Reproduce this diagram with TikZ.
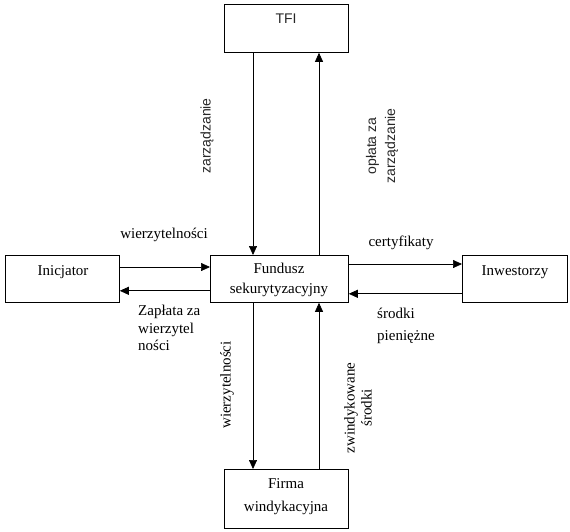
\documentclass[tikz,border=0pt]{standalone}
\usepackage{fontspec}
\setmainfont{Liberation Serif}
\newfontfamily\arialf{Liberation Sans}
\usetikzlibrary{arrows.meta}
\begin{document}
\begin{tikzpicture}[x=1pt,y=-1pt,
  box/.style={draw, line width=0.8pt, minimum width=#1, inner sep=0pt, anchor=north west},
  lbl/.style={font=\fontsize{15}{17}\selectfont, inner sep=0pt},
  slbl/.style={font=\arialf\fontsize{14}{19}\selectfont, inner sep=0pt, text=black!85},
  arr/.style={draw, line width=0.7pt, -{Triangle[length=9pt,width=8pt]}}
]
\useasboundingbox (0,0) rectangle (570,531);
% boxes
\node[box=124pt, minimum height=48pt] (tfi) at (224,4) {};
\node[box=114pt, minimum height=47pt] (ini) at (5,255) {};
\node[box=138pt, minimum height=47pt] (fund) at (210,255) {};
\node[box=105pt, minimum height=47pt] (inw) at (462,255) {};
\node[box=124pt, minimum height=59pt] (firma) at (224,469) {};
% box texts
\node[slbl] (tfit) at (286,19) {TFI};
\node[lbl] (init) at (63,272) {Inicjator};
\node[lbl] (inwt) at (515,272) {Inwestorzy};
\node[lbl, align=center, font=\fontsize{15}{20}\selectfont] (fundt) at (279,280) {Fundusz\\sekurytyzacyjny};
\node[lbl] (firmat1) at (286,484) {Firma};
\node[lbl] (firmat2) at (286,508) {windykacyjna};
% vertical connectors
\draw[arr] ([xshift=29pt]tfi.south west) -- ([xshift=43pt]fund.north west);
\draw[arr] ([xshift=109pt]fund.north west) -- ([xshift=95pt]tfi.south west);
\draw[arr] ([xshift=43pt]fund.south west) -- ([xshift=29pt]firma.north west);
\draw[arr] ([xshift=95pt]firma.north west) -- ([xshift=109pt]fund.south west);
% horizontal connectors
\draw[arr] ([yshift=-12pt]ini.north east) -- ([yshift=-12pt]fund.north west);
\draw[arr] ([yshift=12pt]fund.south west) -- ([yshift=12pt]ini.south east);
\draw[arr] ([yshift=-9pt]fund.north east) -- ([yshift=-9pt]inw.north west);
\draw[arr] ([yshift=9pt]inw.south west) -- ([yshift=9pt]fund.south east);
% labels
\node[slbl, rotate=90] (l1) at (207,136) {zarządzanie};
\node[slbl, rotate=90, align=center] (l2) at (382,146) {opłata za\\zarządzanie};
\node[lbl] (l3) at (164,235) {wierzytelności};
\node[lbl] (l4) at (401,243) {certyfikaty};
\node[lbl, align=left, anchor=north west, font=\fontsize{15}{17.5}\selectfont] (l5) at (138,305) {Zapłata za\\wierzytel\\ności};
\node[lbl, anchor=west] (l6a) at (377,313) {środki};
\node[lbl, anchor=west] (l6b) at (377,337) {pieniężne};
\node[lbl, rotate=90] (l7) at (227,385) {wierzytelności};
\node[lbl, rotate=90, align=center] (l8) at (358,408) {zwindykowane\\środki};
\end{tikzpicture}
\end{document}
